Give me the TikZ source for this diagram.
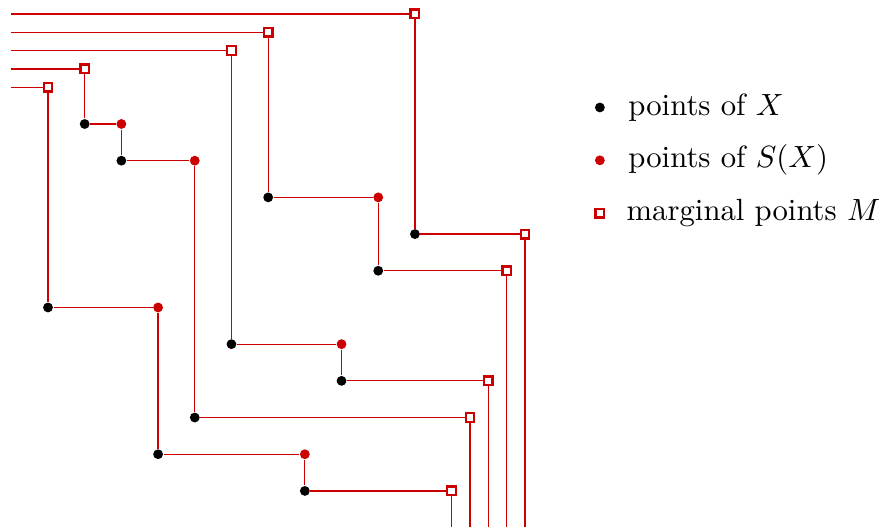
\documentclass[tikz,border=0pt]{standalone}
\usepackage{amsmath}
\usepackage{amssymb}
\usepackage{tikz}
\usetikzlibrary{positioning}
\definecolor{sred}{RGB}{204,0,0}

\begin{document}
\begin{tikzpicture}[x=0.42cm, y=-0.42cm,
    ptX/.style={circle, fill=black, inner sep=0pt, minimum size=3.2pt},
    ptS/.style={circle, fill=sred, inner sep=0pt, minimum size=3.2pt},
    ptM/.style={rectangle, draw=sred, fill=white, line width=0.75pt, inner sep=0pt, minimum size=2.8pt},
    link/.style={draw=sred, line width=0.4pt}]
  \useasboundingbox (-0.308,-3.379) rectangle (23.81,10.98);

  % marginal points on top
  \node (m1) [ptM] at (11,-3) {};
  \node (m2) [ptM] at (7,-2.5) {};
  \node (m3) [ptM] at (6,-2) {};
  \node (m4) [ptM] at (2,-1.5) {};
  \node (m5) [ptM] at (1,-1) {};

  \node (x1) [ptX] at (2,0) {};
  \node (s1) [ptS] at (3,0) {};
  \node (x2) [ptX] at (3,1) {};
  \node (s2) [ptS] at (5,1) {};
  \node (x3) [ptX] at (7,2) {};
  \node (s3) [ptS] at (10,2) {};
  \node (x4) [ptX] at (11,3) {};
  \node (m6) [ptM] at (14,3) {};
  \node (x5) [ptX] at (10,4) {};
  \node (m7) [ptM] at (13.5,4) {};
  \node (x6) [ptX] at (1,5) {};
  \node (s4) [ptS] at (4,5) {};
  \node (x7) [ptX] at (6,6) {};
  \node (s5) [ptS] at (9,6) {};
  \node (x8) [ptX] at (9,7) {};
  \node (m8) [ptM] at (13,7) {};
  \node (x9) [ptX] at (5,8) {};
  \node (m9) [ptM] at (12.5,8) {};
  \node (x10) [ptX] at (4,9) {};
  \node (s6) [ptS] at (8,9) {};
  \node (x11) [ptX] at (8,10) {};
  \node (m10) [ptM] at (12,10) {};

  % free ends
  \coordinate (l1) at (0,-3);
  \coordinate (l2) at (0,-2.5);
  \coordinate (l3) at (0,-2);
  \coordinate (l4) at (0,-1.5);
  \coordinate (l5) at (0,-1);
  \coordinate (b6) at (14,11.2);
  \coordinate (b7) at (13.5,11.2);
  \coordinate (b8) at (13,11.2);
  \coordinate (b9) at (12.5,11.2);
  \coordinate (b10) at (12,11.2);

  \draw [link] (l1) -- (m1) -- (x4) -- (m6) -- (b6);
  \draw [link] (l2) -- (m2) -- (x3) -- (s3) -- (x5) -- (m7) -- (b7);
  \draw [link] (l3) -- (m3) -- (x7) -- (s5) -- (x8) -- (m8) -- (b8);
  \draw [link] (l4) -- (m4) -- (x1) -- (s1) -- (x2) -- (s2) -- (x9) -- (m9) -- (b9);
  \draw [link] (l5) -- (m5) -- (x6) -- (s4) -- (x10) -- (s6) -- (x11) -- (m10) -- (b10);

  % legend
  \node (keyX) [ptX] at (16.04,-0.45) {};
  \node (keyXtxt) [right=0.14cm of keyX] {points of $X$};
  \node (keyS) [ptS] at (16.04,0.99) {};
  \node (keyStxt) [right=0.14cm of keyS] {points of $S(X)$};
  \node (keyM) [ptM] at (16.04,2.43) {};
  \node (keyMtxt) [right=0.12cm of keyM] {marginal points $M$};
\end{tikzpicture}
\end{document}
